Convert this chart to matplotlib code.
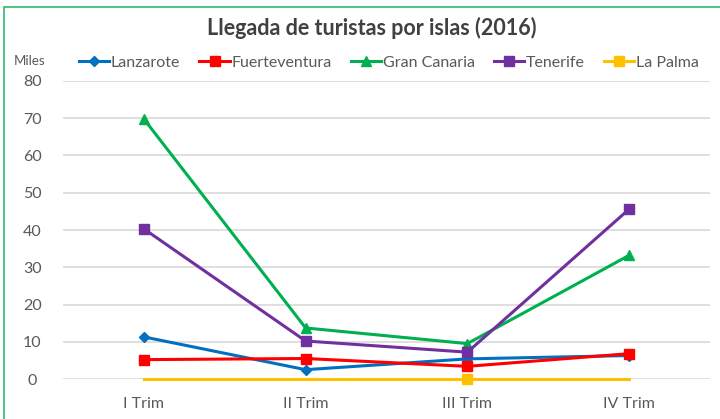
import matplotlib
matplotlib.use("Agg")
import matplotlib.pyplot as plt
from matplotlib.patches import Rectangle

categories = ["I Trim", "II Trim", "III Trim", "IV Trim"]
lanzarote = [11.3, 2.5, 5.4, 6.3]
fuerteventura = [5.2, 5.5, 3.4, 6.8]
gran_canaria = [69.8, 13.7, 9.5, 33.2]
tenerife = [40.3, 10.2, 7.2, 45.6]
la_palma = [0.0, 0.0, 0.0, 0.0]
yticks = [0, 10, 20, 30, 40, 50, 60, 70, 80]

plt.rcParams['font.family'] = ['Lato', 'DejaVu Sans']

fig = plt.figure(figsize=(7.2, 4.19), dpi=100)
ax = fig.add_axes([63/720, 1-379/419, (710-63)/720, (379-81)/419])

x = list(range(len(categories)))
series = [
    ("Lanzarote", lanzarote, "#0070C0", "D", 5, None),
    ("Fuerteventura", fuerteventura, "#FF0000", "s", 7, None),
    ("Gran Canaria", gran_canaria, "#00B050", "^", 7, None),
    ("Tenerife", tenerife, "#7030A0", "s", 7, None),
    ("La Palma", la_palma, "#FFC000", "s", 7, [2]),
]
for name, vals, col, mk, ms, me in series:
    kw = {}
    if me is not None:
        kw['markevery'] = me
    ax.plot(x, vals, color=col, marker=mk, markersize=ms, lw=2.2, label=name,
            markeredgecolor=col, markerfacecolor=col, clip_on=False, **kw)

ax.set_xlim(-0.5, 3.5)
ax.set_ylim(0, 80)
ax.set_yticks(yticks)
ax.set_xticks(x)
ax.set_xticklabels(categories)
ax.yaxis.grid(True, color="#D9D9D9", lw=1.2)
ax.set_axisbelow(True)
for s in ax.spines.values():
    s.set_visible(False)
ax.tick_params(axis='both', length=0, labelsize=11.5, colors="#595959")
ax.tick_params(axis='y', pad=22)
ax.tick_params(axis='x', pad=13)
for lbl in ax.get_yticklabels():
    lbl.set_horizontalalignment('center')

fig.text(30/720, 1-61/419, "Miles", ha='center', va='center', fontsize=9.5, color="#595959")
fig.text(372/720, 1-28/419, "Llegada de turistas por islas (2016)",
         ha='center', va='center', fontsize=15.5, fontweight='bold', color="#404040")

leg = fig.legend(loc='center left', bbox_to_anchor=(79/720, 1-63/419), ncol=5, frameon=False,
                 fontsize=11.5, handlelength=1.9, handletextpad=0.1, columnspacing=1.2,
                 borderaxespad=0, borderpad=0)
for t in leg.get_texts():
    t.set_color("#595959")

fig.patches.append(Rectangle((4/720, -0.1), 1.2, 1-7/419+0.1, transform=fig.transFigure,
                             fill=False, edgecolor="#2DBE6C", lw=1.2))

fig.savefig("out.png", dpi=100)
